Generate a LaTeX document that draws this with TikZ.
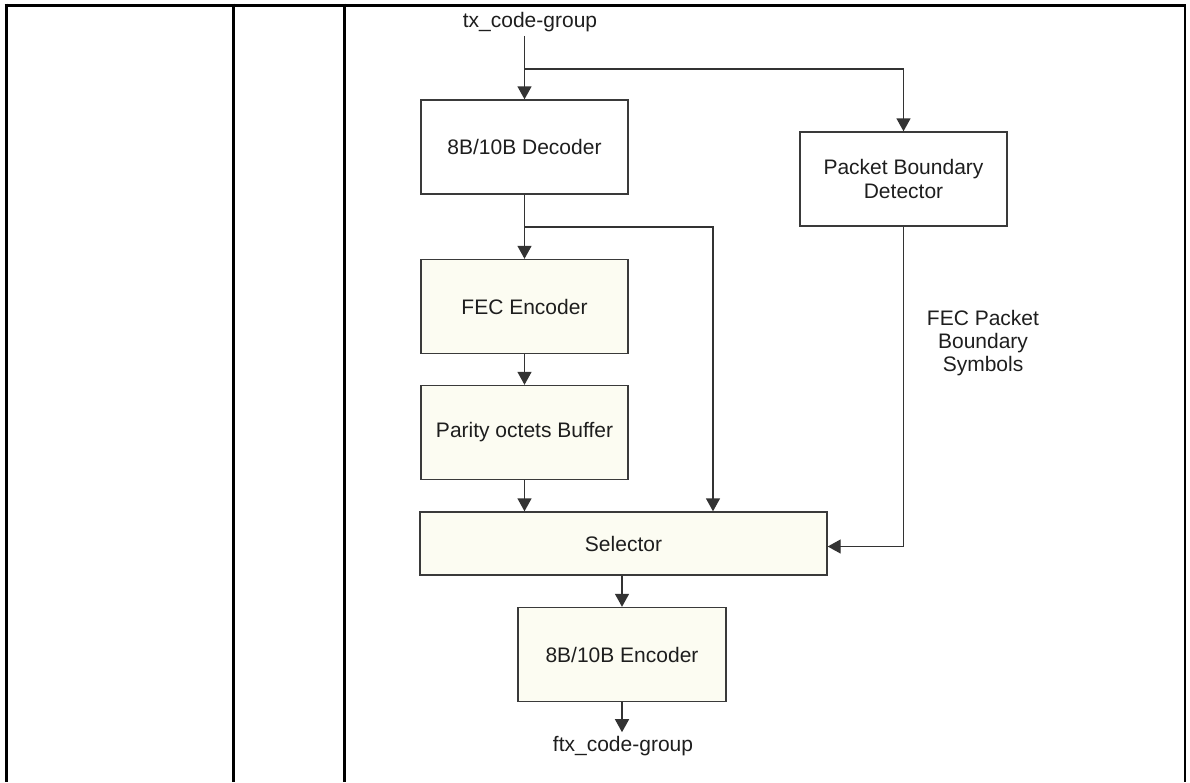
\documentclass[tikz,border=0pt]{standalone}
\usepackage{fontspec}
\setmainfont{Liberation Sans}
\usetikzlibrary{arrows.meta}
\definecolor{boxline}{HTML}{3A3A3A}
\definecolor{wire}{HTML}{333333}
\definecolor{txt}{HTML}{1E1E1E}
\definecolor{creamfill}{HTML}{FCFCF2}
\begin{document}
\begin{tikzpicture}[x=1pt,y=-1pt,
  blk/.style={draw=boxline,line width=1.4pt,fill=white,minimum width=207pt,
    minimum height=94pt,inner sep=0pt,align=center,text=txt,
    font=\fontsize{21}{24}\selectfont},
  cream/.style={blk,fill=creamfill},
  flow/.style={draw=wire,line width=1.4pt,-{Triangle[width=14pt,length=13pt]}},
  rule/.style={line width=3pt,black},
  lbl/.style={inner sep=0pt,text=txt,align=center,font=\fontsize{21}{23}\selectfont}
]
\useasboundingbox (0,0) rectangle (1190,782);

% table grid
\draw[rule] (4.5,5) -- (344,5);
\draw[rule,line width=3.5pt] (344,5.5) -- (1186,5.5);
\draw[rule] (6,3.5) -- (6,782);
\draw[rule] (233.3,3.5) -- (233.3,782);
\draw[rule] (344,3.5) -- (344,782);
\draw[rule,line width=2.5pt] (1184.8,4) -- (1184.8,782);

% blocks
\node[blk]   (dec) at (524.5,147)   {8B/10B Decoder};
\node[blk]   (pbd) at (903.5,179)   {Packet Boundary\\Detector};
\node[cream] (fec) at (524.5,306.5) {FEC Encoder};
\node[cream] (par) at (524.5,432.5) {Parity octets Buffer};
\node[cream,minimum width=407pt,minimum height=63pt] (sel) at (623.5,543.5) {Selector};
\node[cream,minimum width=208pt] (enc) at (622,654.5) {8B/10B Encoder};

% signal labels
\node[lbl] (tx)  at (530,22)  {tx\_code-group};
\node[lbl,anchor=north] (ftx) at (623,736) {ftx\_code-group};
\node[lbl] (sym) at (983,343) {FEC Packet\\Boundary\\Symbols};

% branch points
\coordinate (b1) at (524.5,69);
\coordinate (b2) at (524.5,227);
\coordinate (b2r) at (713,227);

% connectors
\draw[flow] (dec.north |- tx.south) ++(0,4) -- (dec.north);
\draw[flow] (b1) -| (pbd.north);
\draw[flow] (dec.south) -- (fec.north);
\draw[flow] (b2) -- (b2r) -- (b2r |- sel.north);
\draw[flow] (fec.south) -- (par.north);
\draw[flow] (par.south) -- (par.south |- sel.north);
\draw[flow] (pbd.south) |- ([yshift=-3pt]sel.east);
\draw[flow] (sel.south -| enc.north) -- (enc.north);
\draw[flow] (enc.south) -- ++(0,30);
\end{tikzpicture}
\end{document}
